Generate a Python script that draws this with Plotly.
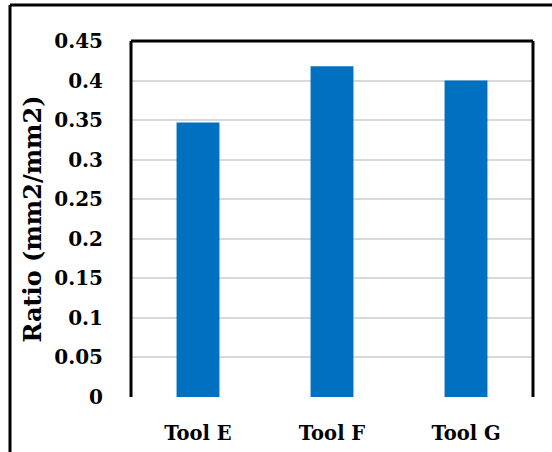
import plotly.graph_objects as go

categories = ["Tool E", "Tool F", "Tool G"]
values = [0.347, 0.418, 0.400]
y_ticks = [0, 0.05, 0.1, 0.15, 0.2, 0.25, 0.3, 0.35, 0.4, 0.45]
y_tick_labels = ["0", "0.05", "0.1", "0.15", "0.2", "0.25", "0.3", "0.35", "0.4", "0.45"]

FONT = "DejaVu Serif"

fig = go.Figure(
    go.Bar(x=categories, y=values, marker=dict(color="#0070C0", line=dict(width=0)))
)

fig.update_layout(
    width=552,
    height=452,
    margin=dict(l=131, r=19, t=41, b=55),
    paper_bgcolor="white",
    plot_bgcolor="white",
    bargap=0.68,
    showlegend=False,
    font=dict(family=FONT, color="black", size=20, weight="bold"),
)

fig.update_xaxes(
    automargin=False,
    showline=False,
    showgrid=False,
    ticks="",
    ticklabelstandoff=22,
    tickfont=dict(family=FONT, size=19.5, weight="bold", color="black"),
)

fig.update_yaxes(
    automargin=False,
    range=[0, 0.45],
    tickvals=y_ticks,
    ticktext=y_tick_labels,
    showgrid=True,
    gridcolor="#d9d9d9",
    gridwidth=2,
    zeroline=True,
    zerolinecolor="white",
    showline=False,
    ticks="",
    ticklabelstandoff=27,
    tickfont=dict(family=FONT, size=20, weight="bold", color="black"),
    title=dict(text="Ratio (mm2/mm2)", font=dict(family=FONT, size=24, weight="bold", color="black"), standoff=5),
)

# plot-area frame: left, top, right
for x0, y0, x1, y1 in [(0, 0, 0, 1), (0, 1, 1, 1), (1, 0, 1, 1)]:
    fig.add_shape(type="line", xref="paper", yref="paper", x0=x0, y0=y0, x1=x1, y1=y1,
                  line=dict(color="black", width=3), layer="above")

# outer chart border (top and left edges visible)
fig.add_shape(type="line", xref="paper", yref="paper", x0=-121/402, y0=1+36/356, x1=1+19/402, y1=1+36/356,
              line=dict(color="black", width=3))
fig.add_shape(type="line", xref="paper", yref="paper", x0=-121/402, y0=-55/356, x1=-121/402, y1=1+36/356,
              line=dict(color="black", width=3))

fig.write_html("out.html", config={"displayModeBar": False},
               post_script="document.body.style.margin='0';")
